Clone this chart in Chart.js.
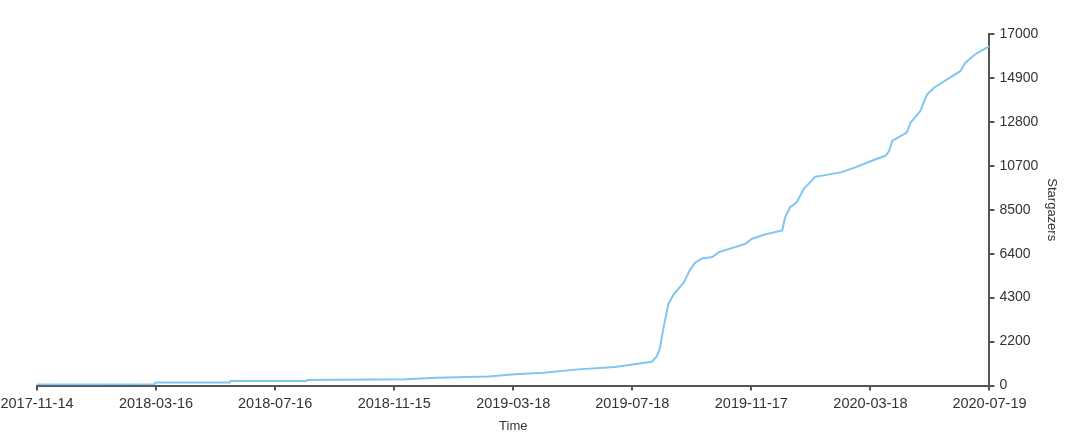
<!DOCTYPE html>
<html>
<head>
<meta charset="utf-8">
<script src="https://cdn.jsdelivr.net/npm/chart.js@4/dist/chart.umd.min.js"></script>
<style>
  html, body { margin: 0; padding: 0; background: #fff; }
  #wrap { width: 1080px; height: 444px; }
</style>
</head>
<body>
<div id="wrap"><canvas id="starChart"></canvas></div>
<script>
(function () {
  'use strict';

  // days since 2017-11-14
  var dayOffsets = [0, 121, 122, 198, 199, 277, 278, 379, 410, 464, 491, 521, 556, 594, 632, 637, 640, 644, 649, 654,
    665, 670, 676, 683, 694, 701, 728, 735, 748, 766, 769, 774, 781, 788, 800, 807, 827, 841, 858, 872,
    876, 879, 894, 898, 908, 912, 915, 922, 938, 949, 954, 964, 970, 979];
  var stargazers = [50, 60, 150, 150, 220, 220, 270, 300, 375, 430, 540, 620, 780, 900, 1150, 1400, 1750, 2800, 3950, 4380,
    5000, 5490, 5920, 6130, 6210, 6450, 6850, 7100, 7300, 7500, 8130, 8620, 8860, 9500, 10100, 10150, 10320, 10550, 10870, 11110,
    11350, 11830, 12230, 12720, 13280, 13760, 14080, 14400, 14880, 15200, 15600, 16010, 16170, 16410];

  var xTickLabels = ['2017-11-14', '2018-03-16', '2018-07-16', '2018-11-15', '2019-03-18',
    '2019-07-18', '2019-11-17', '2020-03-18', '2020-07-19'];
  var yTickLabels = ['0', '2200', '4300', '6400', '8500', '10700', '12800', '14900', '17000'];

  var maxDay = 979;
  var maxStars = 17000;

  var points = dayOffsets.map(function (d, i) {
    return { x: d, y: stargazers[i] };
  });

  var axisColor = '#555555';
  var textColor = '#333333';
  var fontFamily = "'Liberation Sans', Arial, sans-serif";

  var ctx = document.getElementById('starChart').getContext('2d');
  var starChart = new Chart(ctx, {
    type: 'line',
    data: {
      datasets: [{
        data: points,
        borderColor: '#7fc6f2',
        borderWidth: 2,
        pointRadius: 0,
        tension: 0,
        fill: false
      }]
    },
    options: {
      responsive: true,
      maintainAspectRatio: false,
      animation: false,
      layout: {
        padding: { left: 1, right: 15, top: 34, bottom: 9.5 }
      },
      plugins: {
        legend: { display: false },
        tooltip: { enabled: false }
      },
      scales: {
        x: {
          type: 'linear',
          min: 0,
          max: maxDay,
          afterBuildTicks: function (scale) {
            scale.ticks = xTickLabels.map(function (t, i) {
              return { value: i * maxDay / (xTickLabels.length - 1) };
            });
          },
          afterFit: function (scale) {
            // keep the first date label close to the left edge, like the original
            scale.paddingLeft = 37;
          },
          ticks: {
            autoSkip: false,
            maxRotation: 0,
            color: textColor,
            padding: 5,
            font: { family: fontFamily, size: 14.5 },
            callback: function (v, i) { return xTickLabels[i]; }
          },
          grid: { drawOnChartArea: false, drawTicks: true, tickLength: 5, color: axisColor, lineWidth: 2 },
          border: { display: true, color: axisColor, width: 2 },
          title: {
            display: true,
            text: 'Time',
            color: textColor,
            padding: { top: 1, bottom: 0 },
            font: { family: fontFamily, size: 13 }
          }
        },
        y: {
          position: 'right',
          min: 0,
          max: maxStars,
          afterBuildTicks: function (scale) {
            scale.ticks = yTickLabels.map(function (t, i) {
              return { value: i * maxStars / (yTickLabels.length - 1) };
            });
          },
          ticks: {
            color: textColor,
            padding: 5,
            font: { family: fontFamily, size: 14 },
            callback: function (v, i) { return yTickLabels[i]; }
          },
          grid: { drawOnChartArea: false, drawTicks: true, tickLength: 5, color: axisColor, lineWidth: 2 },
          border: { display: true, color: axisColor, width: 2 },
          title: {
            display: true,
            text: 'Stargazers',
            color: textColor,
            padding: { top: 6, bottom: 0 },
            font: { family: fontFamily, size: 13 }
          }
        }
      }
    }
  });
})();
</script>
</body>
</html>
